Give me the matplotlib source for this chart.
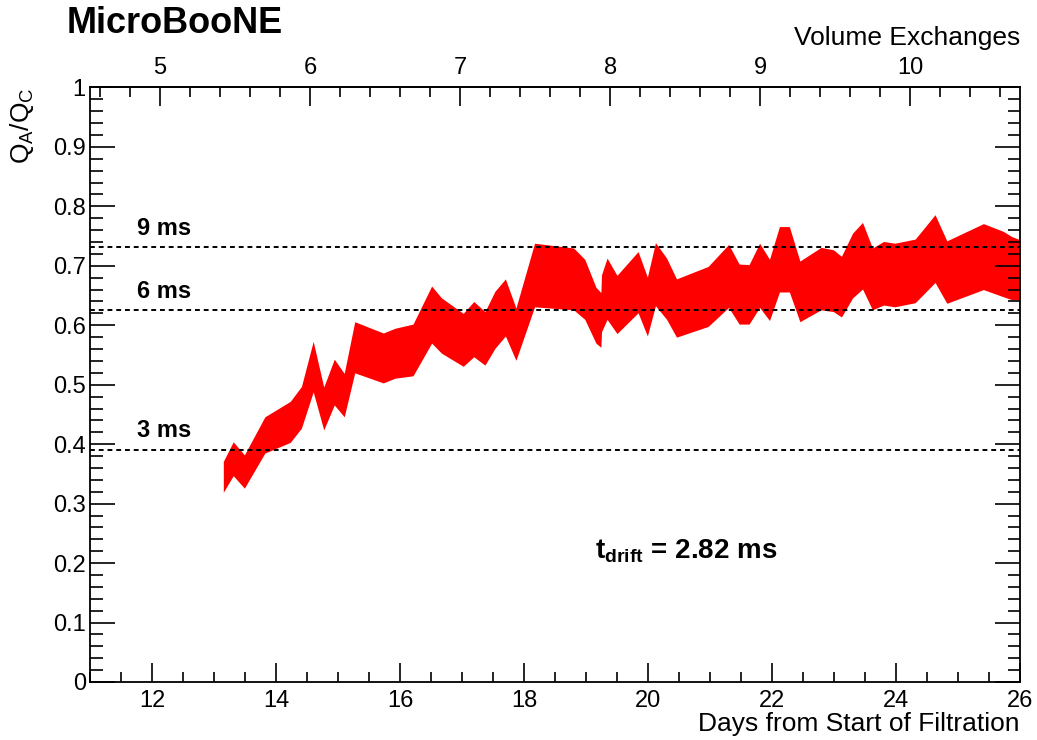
import matplotlib
matplotlib.use('Agg')
import matplotlib.pyplot as plt
from matplotlib.ticker import MultipleLocator, FixedLocator, FormatStrFormatter

plt.rcParams['font.family'] = ['Liberation Sans', 'DejaVu Sans']
plt.rcParams['mathtext.fontset'] = 'custom'
plt.rcParams['mathtext.rm'] = 'Liberation Sans'
plt.rcParams['mathtext.it'] = 'Liberation Sans'
plt.rcParams['mathtext.bf'] = 'Liberation Sans:bold'

# полоса Q_A/Q_C (нижняя и верхняя граница) по дням
days = [13.15, 13.31, 13.49, 13.82, 14.23, 14.41, 14.60, 14.77, 14.94, 15.10,
        15.27, 15.73, 15.92, 16.21, 16.51, 16.67, 17.02, 17.19, 17.37, 17.53,
        17.70, 17.87, 18.17, 18.80, 18.98, 19.16, 19.24, 19.25, 19.34, 19.50,
        19.84, 19.99, 20.12, 20.30, 20.46, 20.97, 21.30, 21.47, 21.63, 21.80,
        21.96, 22.12, 22.28, 22.45, 22.79, 22.99, 23.12, 23.30, 23.46, 23.62,
        23.80, 23.98, 24.31, 24.63, 24.82, 25.41, 25.73, 25.87, 26.0]
upper = [0.371, 0.404, 0.382, 0.446, 0.472, 0.497, 0.573, 0.496, 0.543, 0.519,
         0.606, 0.587, 0.595, 0.602, 0.666, 0.646, 0.620, 0.640, 0.623, 0.657,
         0.678, 0.629, 0.738, 0.730, 0.711, 0.664, 0.655, 0.685, 0.713, 0.684,
         0.724, 0.681, 0.739, 0.713, 0.678, 0.699, 0.736, 0.703, 0.702, 0.738,
         0.711, 0.766, 0.766, 0.708, 0.731, 0.727, 0.716, 0.755, 0.773, 0.730,
         0.741, 0.738, 0.745, 0.786, 0.742, 0.771, 0.758, 0.749, 0.744]
lower = [0.319, 0.347, 0.326, 0.385, 0.403, 0.427, 0.488, 0.424, 0.466, 0.446,
         0.520, 0.503, 0.511, 0.515, 0.570, 0.553, 0.531, 0.547, 0.533, 0.561,
         0.582, 0.541, 0.631, 0.626, 0.610, 0.570, 0.563, 0.589, 0.610, 0.586,
         0.621, 0.582, 0.633, 0.610, 0.580, 0.598, 0.630, 0.602, 0.602, 0.630,
         0.608, 0.656, 0.656, 0.606, 0.626, 0.623, 0.614, 0.646, 0.661, 0.626,
         0.634, 0.631, 0.638, 0.672, 0.637, 0.660, 0.648, 0.643, 0.643]

# линии времени жизни электронов
lifetime_labels = ['3 ms', '6 ms', '9 ms']
lifetime_values = [0.391, 0.625, 0.731]

# верхняя ось: число обменов объёма
ve_ticks = [5, 6, 7, 8, 9, 10]
ve_ref_day = 12.13
days_per_ve = 2.42


def day2ve(d):
    return 5 + (d - ve_ref_day) / days_per_ve


def ve2day(v):
    return ve_ref_day + (v - 5) * days_per_ve


fig = plt.figure(figsize=(10.37, 7.4), dpi=100)
ax = fig.add_axes([0.0868, 0.0784, 0.8968, 0.8034])

ax.fill_between(days, lower, upper, color='#ff0000', linewidth=0)

for lab, val in zip(lifetime_labels, lifetime_values):
    ax.axhline(val, color='black', linestyle=(0, (2.5, 2)), linewidth=1.4)
    ax.text(11.75, val + 0.032, lab, fontsize=17, fontweight='bold',
            ha='left', va='center')

ax.text(19.15, 0.22, r'$\mathbf{t_{drift}}$ = 2.82 ms', fontsize=20,
        fontweight='bold', ha='left', va='center')

ax.set_xlim(11, 26)
ax.set_ylim(0, 1)
ax.xaxis.set_major_locator(MultipleLocator(2))
ax.xaxis.set_minor_locator(MultipleLocator(0.5))
ax.yaxis.set_major_locator(MultipleLocator(0.1))
ax.yaxis.set_minor_locator(MultipleLocator(0.02))
ax.yaxis.set_major_formatter(FormatStrFormatter('%g'))

ax.tick_params(axis='x', which='major', direction='in', length=14, width=1.2,
               labelsize=17, pad=6, top=False)
ax.tick_params(axis='x', which='minor', direction='in', length=7, width=1.2, top=False)
ax.tick_params(axis='y', which='major', direction='in', length=18, width=1.2,
               labelsize=17, pad=3, right=True)
ax.tick_params(axis='y', which='minor', direction='in', length=9, width=1.2, right=True)
for s in ax.spines.values():
    s.set_linewidth(1.3)

ax.set_xlabel('Days from Start of Filtration', fontsize=19, loc='right', labelpad=0)
ax.set_ylabel(r'Q$_\mathrm{A}$/Q$_\mathrm{C}$', fontsize=19, loc='top', labelpad=12)

secax = ax.secondary_xaxis('top', functions=(day2ve, ve2day))
secax.xaxis.set_major_locator(FixedLocator(ve_ticks))
secax.xaxis.set_minor_locator(MultipleLocator(0.2))
secax.tick_params(which='major', direction='in', length=14, width=1.2,
                  labelsize=17, pad=6)
secax.tick_params(which='minor', direction='in', length=7, width=1.2)
secax.spines['top'].set_linewidth(1.3)
secax.set_xlabel('Volume Exchanges', fontsize=19, loc='right', labelpad=9)

fig.text(0.0646, 0.9676, 'MicroBooNE', fontsize=26, fontweight='bold',
         ha='left', va='center')

fig.savefig('out.png', dpi=100)
